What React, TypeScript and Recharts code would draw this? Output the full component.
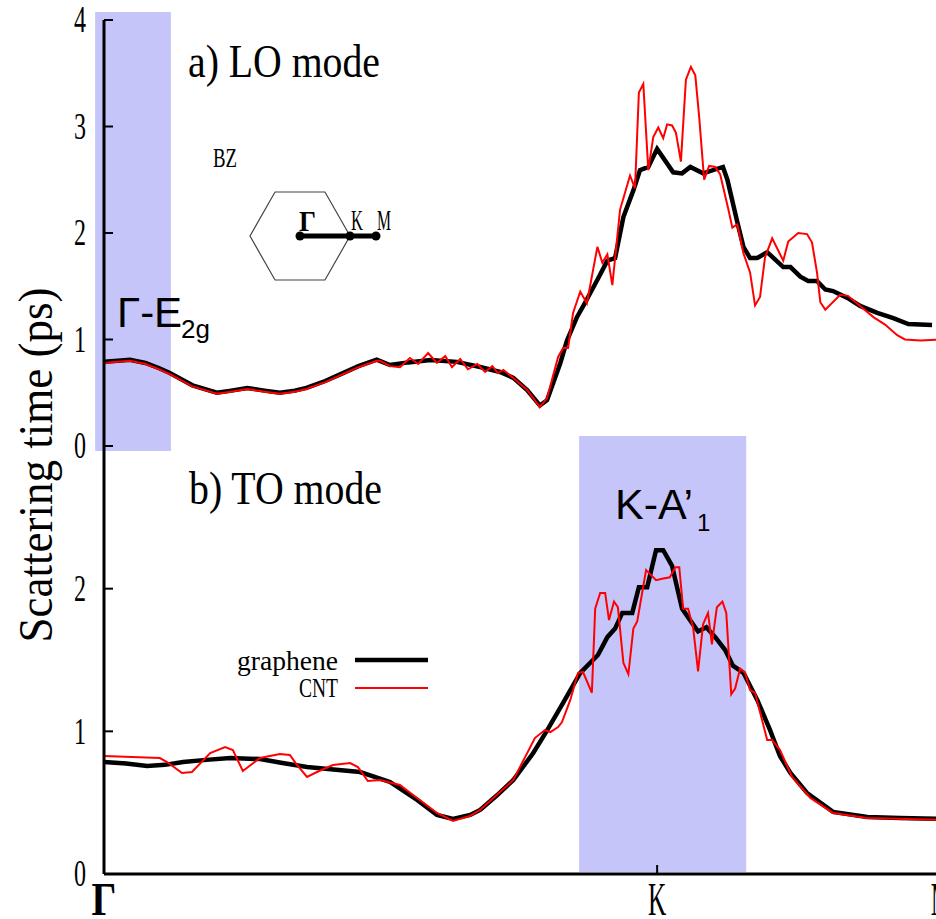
import React from "react";
import { LineChart, Line, XAxis, YAxis, ReferenceArea } from "recharts";

// k-path coordinate: Γ = 0, K = 1, M = 1.515 ; values are scattering times in ps
const loGrapheneK = [0, 0.025, 0.047, 0.075, 0.1, 0.119, 0.16, 0.204, 0.23, 0.259, 0.29, 0.318, 0.345, 0.366, 0.4, 0.43, 0.46, 0.493, 0.517, 0.55, 0.59, 0.638, 0.68, 0.716, 0.74, 0.765, 0.788, 0.801, 0.825, 0.837, 0.855, 0.866, 0.893, 0.91, 0.924, 0.939, 0.957, 0.969, 0.984, 1.0, 1.029, 1.045, 1.06, 1.083, 1.119, 1.127, 1.145, 1.156, 1.168, 1.181, 1.199, 1.228, 1.241, 1.259, 1.273, 1.289, 1.304, 1.318, 1.344, 1.367, 1.398, 1.427, 1.454, 1.497];
const loGrapheneTau = [0.79, 0.8, 0.81, 0.78, 0.73, 0.685, 0.57, 0.5, 0.52, 0.545, 0.52, 0.5, 0.52, 0.545, 0.61, 0.68, 0.75, 0.81, 0.76, 0.785, 0.808, 0.79, 0.742, 0.695, 0.64, 0.526, 0.38, 0.43, 0.78, 0.99, 1.21, 1.31, 1.57, 1.74, 1.765, 2.15, 2.4, 2.59, 2.62, 2.79, 2.57, 2.56, 2.62, 2.56, 2.62, 2.5, 2.1, 1.87, 1.765, 1.765, 1.82, 1.68, 1.68, 1.59, 1.55, 1.55, 1.47, 1.455, 1.39, 1.315, 1.25, 1.2, 1.145, 1.136];

const loCntK = [0, 0.025, 0.047, 0.075, 0.1, 0.119, 0.16, 0.204, 0.23, 0.259, 0.29, 0.318, 0.345, 0.366, 0.4, 0.43, 0.46, 0.493, 0.499, 0.517, 0.535, 0.553, 0.568, 0.586, 0.602, 0.617, 0.629, 0.644, 0.658, 0.675, 0.689, 0.702, 0.712, 0.722, 0.74, 0.765, 0.788, 0.801, 0.821, 0.83, 0.839, 0.848, 0.861, 0.873, 0.892, 0.901, 0.91, 0.919, 0.933, 0.951, 0.96, 0.967, 0.975, 0.984, 0.993, 1.002, 1.011, 1.018, 1.027, 1.034, 1.043, 1.052, 1.061, 1.069, 1.076, 1.085, 1.094, 1.105, 1.114, 1.128, 1.136, 1.145, 1.156, 1.168, 1.177, 1.186, 1.195, 1.208, 1.228, 1.237, 1.255, 1.271, 1.28, 1.289, 1.295, 1.304, 1.331, 1.345, 1.367, 1.391, 1.412, 1.434, 1.448, 1.476, 1.515];
const loCntTau = [0.78, 0.79, 0.8, 0.77, 0.72, 0.675, 0.56, 0.49, 0.51, 0.535, 0.51, 0.49, 0.51, 0.535, 0.6, 0.67, 0.74, 0.8, 0.8, 0.75, 0.74, 0.826, 0.77, 0.873, 0.78, 0.845, 0.74, 0.817, 0.72, 0.77, 0.695, 0.75, 0.685, 0.715, 0.638, 0.526, 0.366, 0.45, 0.836, 0.92, 0.92, 1.25, 1.45, 1.34, 1.87, 1.72, 1.8, 1.51, 2.22, 2.54, 2.42, 3.32, 3.4, 2.59, 2.9, 2.99, 2.89, 3.02, 3.01, 2.94, 2.67, 3.44, 3.56, 3.48, 3.09, 2.5, 2.63, 2.62, 2.55, 2.24, 2.05, 2.08, 1.81, 1.63, 1.32, 1.4, 1.77, 1.95, 1.74, 1.92, 2.0, 1.99, 1.91, 1.63, 1.35, 1.28, 1.42, 1.41, 1.315, 1.21, 1.14, 1.04, 1.0, 0.99, 1.0];

const toGrapheneK = [0, 0.04, 0.078, 0.11, 0.143, 0.185, 0.228, 0.282, 0.32, 0.367, 0.41, 0.463, 0.517, 0.566, 0.602, 0.631, 0.662, 0.68, 0.71, 0.74, 0.776, 0.8, 0.83, 0.861, 0.893, 0.91, 0.924, 0.937, 0.955, 0.967, 0.982, 0.998, 1.011, 1.027, 1.045, 1.063, 1.074, 1.089, 1.105, 1.123, 1.137, 1.156, 1.181, 1.204, 1.222, 1.241, 1.271, 1.318, 1.38, 1.439, 1.515];
const toGrapheneTau = [0.785, 0.775, 0.757, 0.765, 0.785, 0.8, 0.813, 0.806, 0.78, 0.75, 0.735, 0.715, 0.645, 0.519, 0.414, 0.386, 0.414, 0.449, 0.55, 0.659, 0.848, 1.0, 1.199, 1.409, 1.535, 1.66, 1.72, 1.83, 1.83, 2.01, 2.01, 2.27, 2.27, 2.16, 1.86, 1.76, 1.7, 1.73, 1.66, 1.57, 1.46, 1.41, 1.22, 1.01, 0.827, 0.708, 0.568, 0.435, 0.4, 0.393, 0.386];

const toCntK = [0, 0.101, 0.114, 0.141, 0.159, 0.192, 0.219, 0.233, 0.251, 0.282, 0.318, 0.336, 0.349, 0.367, 0.385, 0.414, 0.445, 0.459, 0.477, 0.499, 0.535, 0.566, 0.602, 0.631, 0.662, 0.68, 0.74, 0.779, 0.797, 0.807, 0.821, 0.828, 0.843, 0.857, 0.866, 0.882, 0.888, 0.897, 0.906, 0.913, 0.922, 0.929, 0.939, 0.948, 0.957, 0.964, 0.98, 0.998, 1.009, 1.023, 1.033, 1.04, 1.047, 1.056, 1.065, 1.074, 1.083, 1.092, 1.099, 1.108, 1.118, 1.125, 1.134, 1.141, 1.15, 1.159, 1.168, 1.177, 1.199, 1.208, 1.222, 1.244, 1.277, 1.318, 1.38, 1.515];
const toCntTau = [0.827, 0.813, 0.785, 0.708, 0.715, 0.848, 0.89, 0.869, 0.722, 0.813, 0.841, 0.834, 0.764, 0.68, 0.715, 0.764, 0.778, 0.75, 0.652, 0.659, 0.624, 0.533, 0.428, 0.372, 0.407, 0.449, 0.659, 0.953, 1.009, 0.995, 1.03, 1.065, 1.22, 1.41, 1.416, 1.27, 1.86, 1.97, 1.97, 1.78, 1.91, 1.87, 1.48, 1.4, 1.72, 1.77, 2.13, 2.06, 2.07, 2.08, 2.15, 2.15, 1.86, 1.86, 1.73, 1.42, 1.75, 1.83, 1.61, 1.87, 1.91, 1.83, 1.26, 1.3, 1.44, 1.41, 1.29, 1.27, 0.939, 0.939, 0.87, 0.68, 0.533, 0.428, 0.393, 0.379];

const pathTicks = [0, 1, 1.515];
const pathLabels = ["Γ", "K", "M"];
const loTicks = [0, 1, 2, 3, 4];
const toTicks = [0, 1, 2];

// shaded symmetry-point windows [k1, k2, tau1, tau2]
const loBand = [-0.016, 0.121, -0.047, 4.075];
const toBand = [0.859, 1.161, 0.014, 3.07];

const serif = "'Liberation Serif', 'Times New Roman', serif";
const sans = "'Liberation Sans', Arial, sans-serif";
const bandFill = "#c5c5fa";

const pts = (k: number[], tau: number[]) => k.map((x, i) => ({ k: x, tau: tau[i] }));

const LeftTick = ({ x, y, payload }: any) => (
  <g>
    <line x1={x} x2={x + 9} y1={y} y2={y} stroke="#000" strokeWidth={2} />
    <text
      transform={`translate(${x - 18},${y}) scale(0.65,1)`}
      textAnchor="end"
      dominantBaseline="central"
      fontFamily={serif}
      fontSize={37}
    >
      {payload.value}
    </text>
  </g>
);

const RightTick = ({ x, y }: any) => (
  <line x1={x - 9} x2={x} y1={y} y2={y} stroke="#000" strokeWidth={2} />
);

const TickDown = ({ x, y }: any) => (
  <line x1={x} x2={x} y1={y} y2={y + 9} stroke="#000" strokeWidth={2} />
);

const TickUp = ({ x, y }: any) => (
  <line x1={x} x2={x} y1={y - 9} y2={y} stroke="#000" strokeWidth={2} />
);

const TickCross = ({ x, y }: any) => (
  <line x1={x} x2={x} y1={y - 10} y2={y + 9} stroke="#000" strokeWidth={2} />
);

const PathTick = ({ x, y, payload, index }: any) => {
  const i = pathTicks.indexOf(payload.value);
  const label = pathLabels[i >= 0 ? i : index];
  const sx = label === "Γ" ? 0.85 : 0.55;
  return (
    <g>
      <line x1={x} x2={x} y1={y - 9} y2={y} stroke="#000" strokeWidth={2} />
      <text
        transform={`translate(${x},${y + 41}) scale(${sx},1)`}
        textAnchor="middle"
        fontFamily={serif}
        fontWeight={label === "Γ" ? "bold" : "normal"}
        fontSize={46}
      >
        {label}
      </text>
    </g>
  );
};

const axisLine = { stroke: "#000", strokeWidth: 3 };

export default function App() {
  return (
    <div
      style={{
        position: "fixed",
        left: 0,
        top: 0,
        width: 936,
        height: 919,
        overflow: "hidden",
        background: "#fff",
      }}
    >
      <div style={{ position: "absolute", left: 0, top: 0 }}>
        <LineChart width={970} height={480} margin={{ top: 20, right: 28, bottom: 34, left: 0 }}>
          <ReferenceArea
            x1={loBand[0]}
            x2={loBand[1]}
            y1={loBand[2]}
            y2={loBand[3]}
            fill={bandFill}
            fillOpacity={1}
            stroke="none"
            ifOverflow="visible"
          />
          <XAxis
            type="number"
            dataKey="k"
            domain={[0, 1.515]}
            ticks={pathTicks}
            allowDataOverflow
            height={0}
            axisLine={axisLine}
            tickLine={false}
            tickSize={0}
            tickMargin={0}
            tick={<TickUp />}
          />
          <XAxis
            xAxisId="top"
            orientation="top"
            type="number"
            dataKey="k"
            domain={[0, 1.515]}
            ticks={pathTicks}
            allowDataOverflow
            height={0}
            axisLine={axisLine}
            tickLine={false}
            tickSize={0}
            tickMargin={0}
            tick={<TickDown />}
          />
          <YAxis
            type="number"
            domain={[0, 4]}
            ticks={loTicks}
            width={104}
            axisLine={axisLine}
            tickLine={false}
            tickSize={0}
            tickMargin={0}
            tick={<LeftTick />}
          />
          <YAxis
            yAxisId="right"
            orientation="right"
            type="number"
            domain={[0, 4]}
            ticks={[1, 2, 3]}
            width={0}
            axisLine={axisLine}
            tickLine={false}
            tickSize={0}
            tickMargin={0}
            tick={<RightTick />}
          />
          <Line
            data={pts(loGrapheneK, loGrapheneTau)}
            dataKey="tau"
            type="linear"
            stroke="#000"
            strokeWidth={4.5}
            dot={false}
            isAnimationActive={false}
          />
          <Line
            data={pts(loCntK, loCntTau)}
            dataKey="tau"
            type="linear"
            stroke="#ff0000"
            strokeWidth={2}
            dot={false}
            isAnimationActive={false}
          />
        </LineChart>
      </div>

      <div style={{ position: "absolute", left: 0, top: 426 }}>
        <LineChart width={970} height={493} margin={{ top: 20, right: 28, bottom: 0, left: 0 }}>
          <ReferenceArea
            x1={toBand[0]}
            x2={toBand[1]}
            y1={toBand[2]}
            y2={toBand[3]}
            fill={bandFill}
            fillOpacity={1}
            stroke="none"
            ifOverflow="visible"
          />
          <XAxis
            type="number"
            dataKey="k"
            domain={[0, 1.515]}
            ticks={pathTicks}
            allowDataOverflow
            height={45}
            axisLine={axisLine}
            tickLine={false}
            tickSize={0}
            tickMargin={0}
            tick={<PathTick />}
          />
          <XAxis
            xAxisId="top"
            orientation="top"
            type="number"
            dataKey="k"
            domain={[0, 1.515]}
            ticks={pathTicks}
            allowDataOverflow
            height={0}
            axisLine={axisLine}
            tickLine={false}
            tickSize={0}
            tickMargin={0}
            tick={<TickCross />}
          />
          <YAxis
            type="number"
            domain={[0, 3]}
            ticks={toTicks}
            width={104}
            axisLine={axisLine}
            tickLine={false}
            tickSize={0}
            tickMargin={0}
            tick={<LeftTick />}
          />
          <YAxis
            yAxisId="right"
            orientation="right"
            type="number"
            domain={[0, 3]}
            ticks={[1, 2]}
            width={0}
            axisLine={axisLine}
            tickLine={false}
            tickSize={0}
            tickMargin={0}
            tick={<RightTick />}
          />
          <Line
            data={pts(toGrapheneK, toGrapheneTau)}
            dataKey="tau"
            type="linear"
            stroke="#000"
            strokeWidth={4.5}
            dot={false}
            isAnimationActive={false}
          />
          <Line
            data={pts(toCntK, toCntTau)}
            dataKey="tau"
            type="linear"
            stroke="#ff0000"
            strokeWidth={2}
            dot={false}
            isAnimationActive={false}
          />
        </LineChart>
      </div>

      <svg
        width={936}
        height={919}
        style={{ position: "absolute", left: 0, top: 0, pointerEvents: "none" }}
      >
        <text
          transform="translate(52,465) rotate(-90)"
          textAnchor="middle"
          fontFamily={serif}
          fontSize={48}
          textLength={355}
          lengthAdjust="spacingAndGlyphs"
        >
          Scattering time (ps)
        </text>

        <text x={188} y={77} fontFamily={serif} fontSize={46} textLength={192} lengthAdjust="spacingAndGlyphs">
          a) LO mode
        </text>
        <text x={189} y={504} fontFamily={serif} fontSize={46} textLength={193} lengthAdjust="spacingAndGlyphs">
          b) TO mode
        </text>

        <text x={213} y={167} fontFamily={serif} fontSize={28} textLength={24} lengthAdjust="spacingAndGlyphs">
          BZ
        </text>
        <polygon
          points="250,236 275,192 325,192 350,236 325,280 275,280"
          fill="none"
          stroke="#444"
          strokeWidth={1.2}
        />
        <line x1={300} x2={376} y1={236} y2={236} stroke="#000" strokeWidth={5} />
        <circle cx={300} cy={236} r={4.5} fill="#000" />
        <circle cx={350} cy={236} r={4.5} fill="#000" />
        <circle cx={376} cy={236} r={4.5} fill="#000" />
        <text x={299} y={231} fontFamily={serif} fontWeight="bold" fontSize={30} textLength={17} lengthAdjust="spacingAndGlyphs">
          Γ
        </text>
        <text x={351} y={230} fontFamily={serif} fontSize={29} textLength={12} lengthAdjust="spacingAndGlyphs">
          K
        </text>
        <text x={377} y={230} fontFamily={serif} fontSize={29} textLength={14} lengthAdjust="spacingAndGlyphs">
          M
        </text>

        <text x={117} y={327} fontFamily={sans} fontSize={42}>
          Γ-E
        </text>
        <text x={181} y={338} fontFamily={sans} fontSize={26}>
          2g
        </text>

        <text x={615} y={519} fontFamily={sans} fontSize={43}>
          K-A’
        </text>
        <text x={697} y={531} fontFamily={sans} fontSize={24}>
          1
        </text>

        <text x={338} y={670} textAnchor="end" fontFamily={serif} fontSize={27} textLength={101} lengthAdjust="spacingAndGlyphs">
          graphene
        </text>
        <line x1={355} x2={428} y1={660} y2={660} stroke="#000" strokeWidth={4.5} />
        <text x={338} y={697} textAnchor="end" fontFamily={serif} fontSize={27} textLength={39} lengthAdjust="spacingAndGlyphs">
          CNT
        </text>
        <line x1={355} x2={428} y1={688} y2={688} stroke="#ff0000" strokeWidth={2} />
      </svg>
    </div>
  );
}
